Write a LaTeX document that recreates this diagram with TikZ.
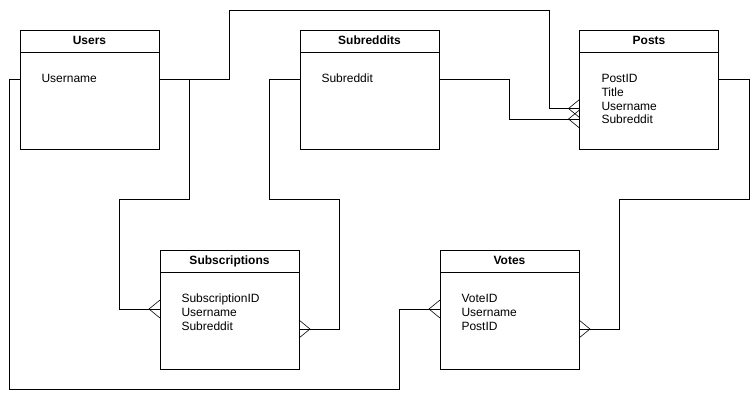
\documentclass[tikz,border=0pt]{standalone}
\usepackage{fontspec}
\setmainfont{Liberation Sans}
\begin{document}
\begin{tikzpicture}[x=1pt,y=-1pt,line width=1pt,
  entity/.style={draw,minimum width=139pt,minimum height=119pt,inner sep=0pt,outer sep=0pt},
  ttl/.style={font=\bfseries\fontsize{12}{14}\selectfont,anchor=base,inner sep=0pt},
  fld/.style={font=\fontsize{12}{14}\selectfont,anchor=base west,inner sep=0pt},
  crowL/.pic={\draw[line width=0.6pt] (0,-9) -- (-11,0) -- (0,9);},
  crowR/.pic={\draw[line width=0.6pt] (0,-9) -- (11,0) -- (0,9);}]
\useasboundingbox (0,0) rectangle (752,400);
\fill[white] (0,0) rectangle (752,400);
% entities
\node[entity] (users) at (89.5,89.5) {};
\node[entity] (subreddits) at (369.5,89.5) {};
\node[entity] (posts) at (649,89.5) {};
\node[entity] (subscriptions) at (229.5,309.5) {};
\node[entity] (votes) at (509.5,309.5) {};
% header dividers
\foreach \e/\y in {users/52,subreddits/52,posts/52,subscriptions/272,votes/272}
  \draw (\e.west |- 0,\y) -- (\e.east |- 0,\y);
% titles
\node[ttl] (users-t) at (89.5,44.5) {Users};
\node[ttl] (subreddits-t) at (369.5,44.5) {Subreddits};
\node[ttl] (posts-t) at (649,44.5) {Posts};
\node[ttl] (subscriptions-t) at (229.5,264.5) {Subscriptions};
\node[ttl] (votes-t) at (509.5,264.5) {Votes};
% fields
\node[fld] (users-f1) at (41,82.5) {Username};
\node[fld] (subreddits-f1) at (321,82.5) {Subreddit};
\node[fld] (posts-f1) at (601,82.5) {PostID};
\node[fld] (posts-f2) at (601,96.3) {Title};
\node[fld] (posts-f3) at (601,110.1) {Username};
\node[fld] (posts-f4) at (601,123.9) {Subreddit};
\node[fld] (subscriptions-f1) at (181,302.5) {SubscriptionID};
\node[fld] (subscriptions-f2) at (181,316.3) {Username};
\node[fld] (subscriptions-f3) at (181,330.1) {Subreddit};
\node[fld] (votes-f1) at (461,302.5) {VoteID};
\node[fld] (votes-f2) at (461,316.3) {Username};
\node[fld] (votes-f3) at (461,330.1) {PostID};
% connectors
\coordinate (uj) at (189,79);
\draw (users.east |- 0,79) -| (229,10) -| (549,108.5) -- (posts.west |- 0,108.5);
\draw (subreddits.east |- 0,79) -| (509,119) -- (posts.west |- 0,119);
\draw (uj) -- (189,199) -| (119,309) -- (subscriptions.west |- 0,309);
\draw (subreddits.west |- 0,79) -| (269,199) -| (339,329) -- (subscriptions.east |- 0,329);
\draw (users.west |- 0,79) -| (9,389) -| (399,309) -- (votes.west |- 0,309);
\draw (posts.east |- 0,79) -| (749,199) -| (619,329) -- (votes.east |- 0,329);
% crow's feet
\pic at (posts.west |- 0,108.5) {crowL};
\pic at (posts.west |- 0,119) {crowL};
\pic at (subscriptions.west |- 0,309) {crowL};
\pic at (subscriptions.east |- 0,329) {crowR};
\pic at (votes.west |- 0,309) {crowL};
\pic at (votes.east |- 0,329) {crowR};
\end{tikzpicture}
\end{document}
